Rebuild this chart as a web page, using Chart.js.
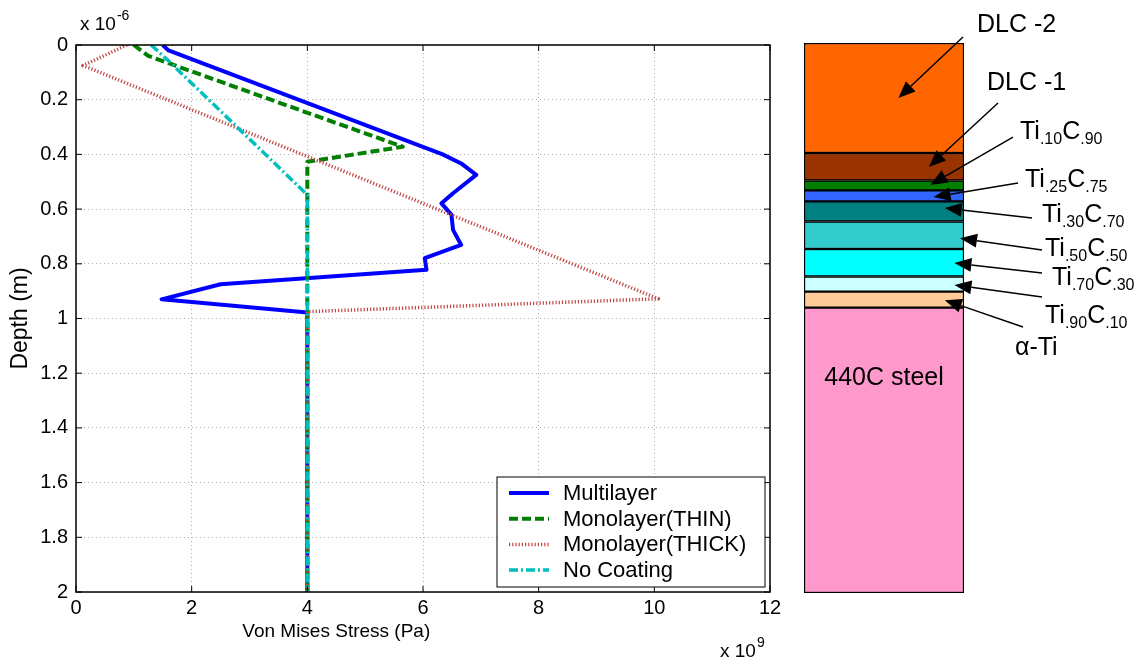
<!DOCTYPE html>
<html>
<head>
<meta charset="utf-8">
<script src="https://cdn.jsdelivr.net/npm/chart.js@4.4.1/dist/chart.umd.min.js"></script>
<style>
  html, body { margin: 0; padding: 0; background: #fff; }
  #wrap { position: relative; width: 1148px; height: 663px; overflow: hidden; }
  #stressChart { position: absolute; left: 0; top: 0; }
  #layerChart { position: absolute; left: 790px; top: 0; }
</style>
</head>
<body>
<div id="wrap">
  <canvas id="stressChart" width="790" height="663"></canvas>
  <canvas id="layerChart" width="358" height="663"></canvas>
</div>
<script>
// stress in 1e9 Pa, depth in 1e-6 m
const multiStress  = [1.5, 1.6, 6.34, 6.66, 6.92, 6.52, 6.32, 6.49, 6.52, 6.66, 6.03, 6.06, 2.5, 1.48, 4.0, 4.0];
const multiDepth   = [0, 0.02, 0.40, 0.433, 0.475, 0.542, 0.579, 0.62, 0.676, 0.731, 0.779, 0.822, 0.875, 0.93, 0.978, 2.0];
const thinStress   = [1.0, 1.25, 5.65, 4.0, 4.0];
const thinDepth    = [0, 0.04, 0.372, 0.427, 2.0];
const thickStress  = [0.88, 0.12, 10.07, 4.0, 4.0];
const thickDepth   = [0, 0.075, 0.928, 0.975, 2.0];
const noCoatStress = [1.3, 1.6, 4.0, 4.0];
const noCoatDepth  = [0, 0.058, 0.548, 2.0];
const seriesNames  = ['Multilayer', 'Monolayer(THIN)', 'Monolayer(THICK)', 'No Coating'];

const stressTicks = [0, 2, 4, 6, 8, 10, 12];
const depthTicks  = [0, 0.2, 0.4, 0.6, 0.8, 1, 1.2, 1.4, 1.6, 1.8, 2];

// coating stack, top to bottom (thickness in 1e-6 m)
const layerNames     = ['DLC -2', 'DLC -1', 'Ti.10C.90', 'Ti.25C.75', 'Ti.30C.70', 'Ti.50C.50', 'Ti.70C.30', 'Ti.90C.10', 'α-Ti', '440C steel'];
const layerThickness = [0.40, 0.10, 0.036, 0.04, 0.073, 0.10, 0.10, 0.055, 0.058, 1.038];

const FONT = '"Liberation Sans", Arial, Helvetica, sans-serif';
const layerColors = ['#ff6600', '#993300', '#008000', '#3366ff', '#008080', '#33cccc', '#00ffff', '#ccffff', '#ffcc99', '#ff99cc'];

// label placement: text = [dx from bar right, depth of baseline], tail = same, head = [fraction of bar width, depth]
const callouts = [
  { text: [13, -0.04],  tail: [-1, -0.022], head: [0.59, 0.20] },
  { text: [23, 0.171],  tail: [34, 0.218],  head: [0.78, 0.451] },
  { text: [56, 0.349],  tail: [49, 0.342],  head: [0.79, 0.516] },
  { text: [61, 0.524],  tail: [54, 0.509],  head: [0.81, 0.56] },
  { text: [78, 0.651],  tail: [68, 0.636],  head: [0.88, 0.60] },
  { text: [81, 0.775],  tail: [78, 0.753],  head: [0.975, 0.71] },
  { text: [88, 0.88],   tail: [78, 0.836],  head: [0.94, 0.80] },
  { text: [81, 1.018],  tail: [78, 0.924],  head: [0.94, 0.88] },
  { text: [51, 1.135],  tail: [59, 1.033],  head: [0.88, 0.935] },
  null
];

const toPoints = (xs, ys) => xs.map((v, i) => ({ x: v, y: ys[i] }));

function drawExp(ctx, x, base, exp, baseline) {
  ctx.font = '19px ' + FONT;
  ctx.fillText(base, x, baseline);
  const w = ctx.measureText(base).width;
  ctx.font = '14px ' + FONT;
  ctx.fillText(exp, x + w + 1, baseline - 10);
}

const matlabAxes = {
  id: 'matlabAxes',
  afterDatasetsDraw(chart) {
    const { ctx, chartArea: a, scales: { x, y } } = chart;
    ctx.save();
    ctx.strokeStyle = '#000';
    ctx.lineWidth = 1;
    ctx.beginPath();
    stressTicks.forEach(v => {
      const px = x.getPixelForValue(v);
      ctx.moveTo(px, a.bottom); ctx.lineTo(px, a.bottom - 6);
      ctx.moveTo(px, a.top); ctx.lineTo(px, a.top + 6);
    });
    depthTicks.forEach(v => {
      const py = y.getPixelForValue(v);
      ctx.moveTo(a.left, py); ctx.lineTo(a.left + 6, py);
      ctx.moveTo(a.right, py); ctx.lineTo(a.right - 6, py);
    });
    ctx.stroke();
    ctx.lineWidth = 1.5;
    ctx.strokeRect(a.left, a.top, a.width, a.height);

    ctx.fillStyle = '#000';
    ctx.textBaseline = 'alphabetic';
    drawExp(ctx, a.left + 4, 'x 10', '-6', a.top - 15);
    drawExp(ctx, a.right - 50, 'x 10', '9', a.bottom + 65);

    // x axis title, sits left of centre as in the original
    ctx.font = '19px ' + FONT;
    ctx.textAlign = 'center';
    ctx.textBaseline = 'middle';
    ctx.fillText('Von Mises Stress (Pa)', x.getPixelForValue(4.5), a.bottom + 40);
    ctx.textAlign = 'left';

    // legend
    const w = 268, h = 110;
    const lx = a.right - 5 - w, ly = a.bottom - 5 - h;
    ctx.fillStyle = '#fff';
    ctx.fillRect(lx, ly, w, h);
    ctx.lineWidth = 1;
    ctx.strokeStyle = '#000';
    ctx.strokeRect(lx, ly, w, h);
    ctx.font = '22px ' + FONT;
    chart.data.datasets.forEach((ds, i) => {
      const ry = ly + 16 + i * 25.7;
      ctx.save();
      ctx.strokeStyle = ds.borderColor;
      ctx.lineWidth = ds.borderWidth;
      ctx.setLineDash(ds.borderDash || []);
      ctx.beginPath();
      ctx.moveTo(lx + 12, ry); ctx.lineTo(lx + 52, ry);
      ctx.stroke();
      ctx.restore();
      ctx.fillStyle = '#000';
      ctx.fillText(ds.label, lx + 66, ry + 1);
    });
    ctx.restore();
  }
};

const tickFont = { size: 20, family: FONT };

new Chart(document.getElementById('stressChart'), {
  type: 'line',
  data: {
    datasets: [
      { label: seriesNames[0], data: toPoints(multiStress, multiDepth), borderColor: '#0000ff', borderWidth: 4, order: 4 },
      { label: seriesNames[1], data: toPoints(thinStress, thinDepth), borderColor: '#007f00', borderWidth: 4, borderDash: [9, 4], order: 3 },
      { label: seriesNames[2], data: toPoints(thickStress, thickDepth), borderColor: '#c04545', borderWidth: 3.5, borderDash: [1.2, 2], order: 2 },
      { label: seriesNames[3], data: toPoints(noCoatStress, noCoatDepth), borderColor: '#00bfbf', borderWidth: 3.5, borderDash: [9, 3, 2, 3], order: 1 }
    ]
  },
  options: {
    responsive: false,
    animation: false,
    layout: { padding: { top: 45, right: 20, left: 0, bottom: 0 } },
    elements: { point: { radius: 0 }, line: { tension: 0, fill: false, borderJoinStyle: 'round' } },
    plugins: { legend: { display: false }, tooltip: { enabled: false } },
    scales: {
      x: {
        type: 'linear', min: 0, max: 12,
        afterBuildTicks: s => { s.ticks = stressTicks.map(v => ({ value: v })); },
        ticks: { color: '#000', font: tickFont, padding: 4, maxRotation: 0 },
        grid: { color: '#b0b0b0', lineWidth: 1, drawTicks: false },
        border: { display: false, dash: [1, 3] },
        afterFit: s => { s.height = 71; }
      },
      y: {
        type: 'linear', min: 0, max: 2, reverse: true,
        afterBuildTicks: s => { s.ticks = depthTicks.map(v => ({ value: v })); },
        ticks: { color: '#000', font: tickFont, padding: 8, callback: v => String(+v.toFixed(1)) },
        grid: { color: '#b0b0b0', lineWidth: 1, drawTicks: false },
        border: { display: false, dash: [1, 3] },
        title: { display: true, text: 'Depth (m)', color: '#000', font: { size: 23, family: FONT }, padding: { top: 7, bottom: 0 } },
        afterFit: s => { s.width = 76; }
      }
    }
  },
  plugins: [matlabAxes]
});

// ---- layer stack on the right ----
function drawLayerText(ctx, name, x, y) {
  const m = name.match(/^Ti(\.\d+)C(\.\d+)$/);
  const parts = m ? [['Ti', 0], [m[1], 1], ['C', 0], [m[2], 1]] : [[name, 0]];
  let cx = x;
  parts.forEach(([t, sub]) => {
    ctx.font = (sub ? '16px ' : '25px ') + FONT;
    ctx.fillText(t, cx, y + (sub ? 5 : 0));
    cx += ctx.measureText(t).width;
  });
}

function drawArrow(ctx, x1, y1, x2, y2) {
  const ang = Math.atan2(y2 - y1, x2 - x1);
  const len = 17, hw = 7;
  const bx = x2 - len * Math.cos(ang), by = y2 - len * Math.sin(ang);
  ctx.beginPath();
  ctx.moveTo(x1, y1); ctx.lineTo(bx, by);
  ctx.stroke();
  ctx.beginPath();
  ctx.moveTo(x2, y2);
  ctx.lineTo(bx + hw * Math.sin(ang), by - hw * Math.cos(ang));
  ctx.lineTo(bx - hw * Math.sin(ang), by + hw * Math.cos(ang));
  ctx.closePath();
  ctx.fill();
}

const layerLabels = {
  id: 'layerLabels',
  afterDraw(chart) {
    const { ctx, chartArea: a, scales: { y } } = chart;
    ctx.save();
    ctx.fillStyle = '#000';
    ctx.strokeStyle = '#000';
    ctx.lineWidth = 1.5;
    ctx.textBaseline = 'alphabetic';
    layerNames.forEach((name, i) => {
      const c = callouts[i];
      if (!c) {
        // label sits inside the layer
        let top = 0;
        for (let k = 0; k < i; k++) top += layerThickness[k];
        ctx.font = '25px ' + FONT;
        ctx.textAlign = 'center';
        ctx.fillText(name, (a.left + a.right) / 2, y.getPixelForValue(top + 0.28));
        ctx.textAlign = 'left';
        return;
      }
      drawLayerText(ctx, name, a.right + c.text[0], y.getPixelForValue(c.text[1]));
      drawArrow(ctx, a.right + c.tail[0], y.getPixelForValue(c.tail[1]),
        a.left + c.head[0] * a.width, y.getPixelForValue(c.head[1]));
    });
    ctx.restore();
  }
};

new Chart(document.getElementById('layerChart'), {
  type: 'bar',
  data: {
    labels: ['coating'],
    datasets: layerNames.map((n, i) => ({
      label: n,
      data: [layerThickness[i]],
      backgroundColor: layerColors[i],
      borderColor: '#000',
      borderWidth: 1.5,
      borderSkipped: false
    }))
  },
  options: {
    responsive: false,
    animation: false,
    layout: { padding: { left: 14, right: 184, top: 43, bottom: 70 } },
    datasets: { bar: { barPercentage: 1, categoryPercentage: 1 } },
    plugins: { legend: { display: false }, tooltip: { enabled: false } },
    scales: {
      x: { display: false, stacked: true },
      y: { display: false, stacked: true, reverse: true, min: 0, max: 2 }
    }
  },
  plugins: [layerLabels]
});
</script>
</body>
</html>
